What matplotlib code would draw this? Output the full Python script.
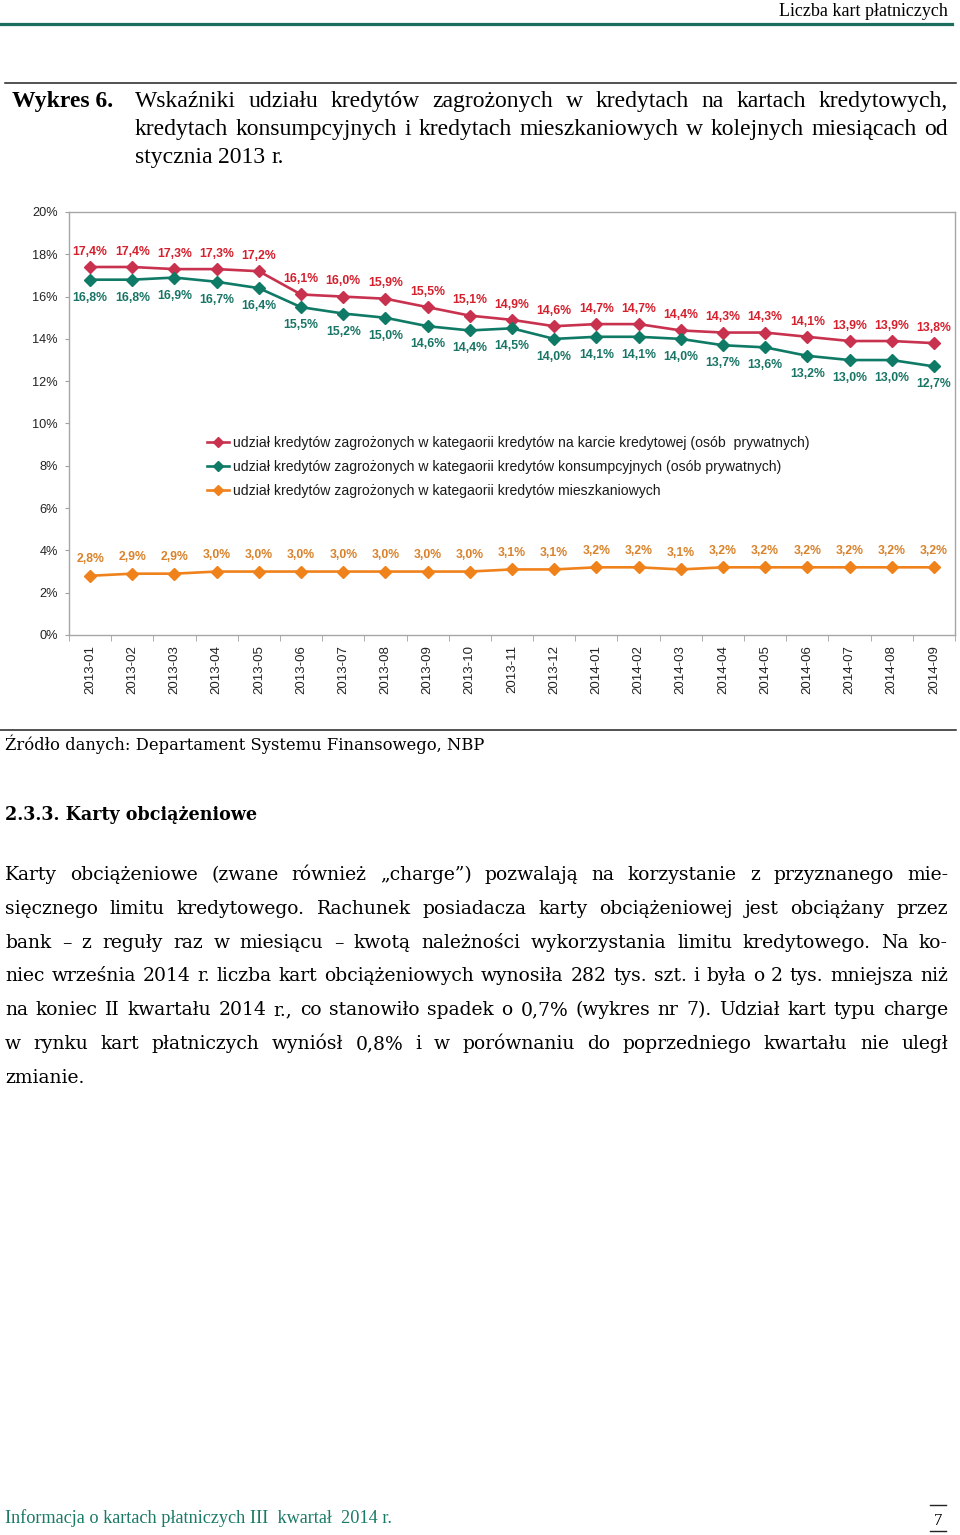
import matplotlib
matplotlib.use("Agg")
import matplotlib.pyplot as plt
from matplotlib.lines import Line2D

# --- data ---------------------------------------------------------------
months = ['2013-01', '2013-02', '2013-03', '2013-04', '2013-05', '2013-06', '2013-07',
          '2013-08', '2013-09', '2013-10', '2013-11', '2013-12', '2014-01', '2014-02',
          '2014-03', '2014-04', '2014-05', '2014-06', '2014-07', '2014-08', '2014-09']
karty = [17.4, 17.4, 17.3, 17.3, 17.2, 16.1, 16.0, 15.9, 15.5, 15.1, 14.9,
         14.6, 14.7, 14.7, 14.4, 14.3, 14.3, 14.1, 13.9, 13.9, 13.8]
konsumpcyjne = [16.8, 16.8, 16.9, 16.7, 16.4, 15.5, 15.2, 15.0, 14.6, 14.4, 14.5,
                14.0, 14.1, 14.1, 14.0, 13.7, 13.6, 13.2, 13.0, 13.0, 12.7]
mieszkaniowe = [2.8, 2.9, 2.9, 3.0, 3.0, 3.0, 3.0, 3.0, 3.0, 3.0, 3.1,
                3.1, 3.2, 3.2, 3.1, 3.2, 3.2, 3.2, 3.2, 3.2, 3.2]
y_ticks = [0, 2, 4, 6, 8, 10, 12, 14, 16, 18, 20]
legend_labels = [
    'udział kredytów zagrożonych w kategaorii kredytów na karcie kredytowej (osób  prywatnych)',
    'udział kredytów zagrożonych w kategaorii kredytów konsumpcyjnych (osób prywatnych)',
    'udział kredytów zagrożonych w kategaorii kredytów mieszkaniowych',
]

W, H = 960, 1535
fig = plt.figure(figsize=(W / 100, H / 100), dpi=100)
fig.patch.set_facecolor('white')
renderer = fig.canvas.get_renderer()


def measure(s, size, family, weight='normal'):
    t = fig.text(0, 0, s, fontsize=size, family=family, weight=weight)
    w = t.get_window_extent(renderer).width
    t.remove()
    return w


def fit_size(s, width, family, weight='normal'):
    return 10 * width / measure(s, 10, family, weight)


def put(s, x, y, size, family, weight='normal', color='black', ha='left'):
    fig.text(x / W, 1 - y / H, s, fontsize=size, family=family, weight=weight,
             color=color, ha=ha, va='baseline')


def justify(line, x0, x1, y, size, family, weight='normal', color='black', last=False):
    words = line.split(' ')
    widths = [measure(w, size, family, weight) for w in words]
    if last or len(words) == 1:
        gap = measure('a a', size, family) - measure('aa', size, family)
    else:
        gap = (x1 - x0 - sum(widths)) / (len(words) - 1)
    x = x0
    for w, wd in zip(words, widths):
        put(w, x, y, size, family, weight, color)
        x += wd + gap


def hline(x0, x1, y, lw, color):
    fig.add_artist(Line2D([x0 / W, x1 / W], [1 - y / H, 1 - y / H],
                          transform=fig.transFigure, lw=lw, color=color))


SERIF_N = ['Liberation Serif', 'DejaVu Serif']
SERIF_W = ['DejaVu Serif']
GREEN = '#1d6e5e'

# --- page header ----------------------------------------------------------
hdr = 'Liczba kart płatniczych'
put(hdr, 948, 16, fit_size(hdr, 170, SERIF_N), SERIF_N, ha='right')
hline(0, 952, 23.5, 2.3, GREEN)

# --- chart title ----------------------------------------------------------
hline(5, 956, 83, 1.1, '#222222')
title_lines = ['Wskaźniki udziału kredytów zagrożonych w kredytach na kartach kredytowych,',
               'kredytach konsumpcyjnych i kredytach mieszkaniowych w kolejnych miesiącach od',
               'stycznia 2013 r.']
ts = min(fit_size(l, 800, SERIF_N) for l in title_lines[:2])
put('Wykres 6.', 12, 107, ts, SERIF_N, weight='bold')
for i, l in enumerate(title_lines):
    justify(l, 135, 948, 107 + 28 * i, ts, SERIF_N, last=(i == 2))

# --- chart ----------------------------------------------------------------
ax = fig.add_axes([69 / W, 1 - 635 / H, 886 / W, 423 / H])
x = list(range(len(months)))
red_l, red_t = '#c8324f', '#d41f2c'
teal_l, teal_t = '#0f7a66', '#187565'
orn_l, orn_t = '#f0821c', '#d9822b'

ax.plot(x, karty, color=red_l, lw=1.9, marker='D', ms=6.5, label=legend_labels[0])
ax.plot(x, konsumpcyjne, color=teal_l, lw=1.9, marker='D', ms=6.5, label=legend_labels[1])
ax.plot(x, mieszkaniowe, color=orn_l, lw=1.9, marker='D', ms=6.5, label=legend_labels[2])

lab = dict(fontsize=8.8, family='Liberation Sans', weight='bold',
           textcoords='offset points', ha='center', va='center')
for xi, v in zip(x, karty):
    ax.annotate(f'{v:.1f}%'.replace('.', ','), (xi, v), xytext=(0, 11), color=red_t, **lab)
for xi, v in zip(x, konsumpcyjne):
    ax.annotate(f'{v:.1f}%'.replace('.', ','), (xi, v), xytext=(0, -13), color=teal_t, **lab)
for xi, v in zip(x, mieszkaniowe):
    ax.annotate(f'{v:.1f}%'.replace('.', ','), (xi, v), xytext=(0, 12), color=orn_t, **lab)

ax.set_xlim(-0.5, len(months) - 0.5)
ax.set_ylim(0, 20)
ax.set_yticks(y_ticks)
ax.set_yticklabels([f'{t}%' for t in y_ticks], family='Liberation Sans', fontsize=9.2, color='#222222')
ax.set_xticks(x)
ax.set_xticklabels(months, rotation=90, family='Liberation Sans', fontsize=9.5, color='#222222')
ax.set_xticks([i - 0.5 for i in range(len(months) + 1)], minor=True)
ax.tick_params(axis='x', which='major', length=0, pad=7)
ax.tick_params(axis='x', which='minor', length=4, color='#a0a0a0', direction='out')
ax.tick_params(axis='y', length=3, pad=5, color='#a0a0a0', direction='out')
for s in ax.spines.values():
    s.set_color('#a6a6a6')
    s.set_linewidth(1.0)

leg = ax.legend(loc='upper left', bbox_to_anchor=((207 - 69) / 886, (635 - 436) / 423),
                frameon=False, borderpad=0, borderaxespad=0, handlelength=1.55,
                handletextpad=0.28, labelspacing=0.72, markerscale=0.72,
                prop={'family': 'Liberation Sans', 'size': 10.1})
for t in leg.get_texts():
    t.set_color('#1a1a1a')

# --- source ---------------------------------------------------------------
hline(0, 956, 730, 1.1, '#222222')
src = 'Źródło danych: Departament Systemu Finansowego, NBP'
put(src, 5, 750, fit_size(src, 481, SERIF_W), SERIF_W)

# --- section text ---------------------------------------------------------
head = '2.3.3. Karty obciążeniowe'
put(head, 5, 820, fit_size(head, 253, SERIF_W, 'bold'), SERIF_W, weight='bold')

para = ['Karty obciążeniowe (zwane również „charge”) pozwalają na korzystanie z przyznanego mie-',
        'sięcznego limitu kredytowego. Rachunek posiadacza karty obciążeniowej jest obciążany przez',
        'bank – z reguły raz w miesiącu – kwotą należności wykorzystania limitu kredytowego. Na ko-',
        'niec września 2014 r. liczba kart obciążeniowych wynosiła 282 tys. szt. i była o 2 tys. mniejsza niż',
        'na koniec II kwartału 2014 r., co stanowiło spadek o 0,7% (wykres nr 7). Udział kart typu charge',
        'w rynku kart płatniczych wyniósł 0,8% i w porównaniu do poprzedniego kwartału nie uległ',
        'zmianie.']
ps = min(fit_size(l, 930, SERIF_W) for l in para[:-1])
for i, l in enumerate(para):
    justify(l, 5, 948, 880 + 33.8 * i, ps, SERIF_W, last=(i == len(para) - 1))

# --- footer ---------------------------------------------------------------
foot = 'Informacja o kartach płatniczych III  kwartał  2014 r.'
put(foot, 5, 1523, fit_size(foot, 387, SERIF_N), SERIF_N, color='#1a7a66')
put('7', 938, 1525, 12, SERIF_N, ha='center')
hline(930, 946, 1505, 1.0, '#222222')
hline(930, 946, 1531, 1.0, '#222222')

fig.savefig('out.png', dpi=100)
